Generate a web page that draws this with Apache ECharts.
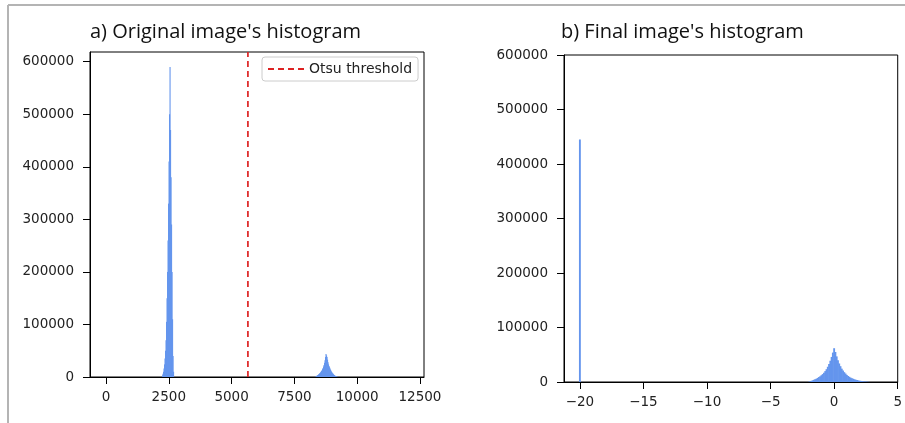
<!DOCTYPE html>
<html><head><meta charset="utf-8">
<script src="https://cdn.jsdelivr.net/npm/echarts@6/dist/echarts.min.js"></script>
<style>html,body{margin:0;padding:0;background:#fff}#c{width:905px;height:423px}</style>
</head><body><div id="c"></div>
<script>
// ---- data ----
const leftTitle = "a) Original image's histogram";
const rightTitle = "b) Final image's histogram";
const leftBinWidth = 20;
const leftCenters = [2250,2270,2290,2310,2330,2350,2370,2390,2410,2430,2450,2470,2490,2510,2530,2550,2570,2590,2610,2630,2650,2670,2690,
  8360,8380,8400,8420,8440,8460,8480,8500,8520,8540,8560,8580,8600,8620,8640,8660,8680,8700,8720,8740,8760,
  8780,8800,8820,8840,8860,8880,8900,8920,8940,8960,8980,9000,9020,9040,9060,9080,9100,9120,9140,9160,9180,9200];
const leftCounts = [3000,6000,10000,16000,24000,35000,50000,70000,105000,150000,200000,260000,330000,410000,500000,590000,470000,380000,290000,200000,110000,40000,10000,
  1500,2000,2500,3200,4000,4700,5500,6500,7500,8700,10000,11500,13000,15000,17000,20000,23000,27000,32000,38000,44000,
  41000,38000,33000,28000,24000,21000,18500,16000,14000,12000,10000,8500,7200,6000,5000,4000,3200,2500,2000,1500,1100,800];
const otsuThreshold = 5650;
const leftXTicks = [0,2500,5000,7500,10000,12500];
const leftYTicks = [0,100000,200000,300000,400000,500000,600000];

const rightBinWidth = 0.1;
const rightCenters = [-20,
  -2.0,-1.9,-1.8,-1.7,-1.6,-1.5,-1.4,-1.3,-1.2,-1.1,-1.0,-0.9,-0.8,-0.7,-0.6,-0.5,-0.4,-0.3,-0.2,-0.1,
  0.0,0.1,0.2,0.3,0.4,0.5,0.6,0.7,0.8,0.9,1.0,1.1,1.2,1.3,1.4,1.5,1.6,1.7,1.8,1.9,2.0,2.1,2.2,2.3,2.4,2.5,2.6,2.7];
const rightCounts = [445000,
  500,1000,2000,3000,4000,5000,6000,7500,9000,10500,12500,14500,17000,20000,23500,28000,33000,39000,46000,54000,
  62000,55000,47000,40000,34000,29000,24500,21000,18000,15500,13000,11000,9500,8000,7000,6000,5000,4200,3500,2900,2400,2000,1600,1300,1000,800,600,400];
const rightXTicks = [-20,-15,-10,-5,0,5];
const rightYTicks = [0,100000,200000,300000,400000,500000,600000];

// ---- styling ----
const barColor = '#6495ED';
const tickFont = {fontFamily:'DejaVu Sans', fontSize:13.5, color:'#222'};
const fmt = v => String(v).replace('-', '\u2212');

function histRender(binW){
  return function(params, api){
    const c = api.value(0), v = api.value(1);
    const p0 = api.coord([c - binW/2, v]);
    const p1 = api.coord([c + binW/2, 0]);
    return {type:'rect', shape:{x:p0[0]-0.3, y:p0[1], width:p1[0]-p0[0]+0.6, height:p1[1]-p0[1]},
      style:{fill:barColor}};
  };
}
function xAxisCfg(idx, min, max, ticks){
  return {type:'value', gridIndex:idx, min:min, max:max, splitLine:{show:false},
    axisLine:{show:true, onZero:false, lineStyle:{color:'#000', width:1}},
    axisTick:{show:true, length:7, customValues:ticks, lineStyle:{color:'#000'}},
    axisLabel:Object.assign({margin:13, customValues:ticks, formatter:fmt}, tickFont)};
}
function yAxisCfg(idx, min, max, ticks){
  return {type:'value', gridIndex:idx, min:min, max:max, splitLine:{show:false},
    axisLine:{show:true, onZero:false, lineStyle:{color:'#000', width:1}},
    axisTick:{show:true, length:7, customValues:ticks, lineStyle:{color:'#000'}},
    axisLabel:Object.assign({margin:16, customValues:ticks, formatter:fmt}, tickFont)};
}

const chart = echarts.init(document.getElementById('c'), null, {renderer:'canvas'});
chart.setOption({
  animation:false,
  backgroundColor:'#fff',
  title:[
    {text:leftTitle, left:90, top:20, padding:0, textStyle:{fontFamily:'Open Sans', fontSize:20, fontWeight:'normal', color:'#111', lineHeight:24}},
    {text:rightTitle, left:561, top:20, padding:0, textStyle:{fontFamily:'Open Sans', fontSize:20, fontWeight:'normal', color:'#111', lineHeight:24}}
  ],
  legend:{data:['Otsu threshold'], left:262, top:57, padding:[5,6,5,5], itemWidth:36, itemHeight:14,
    borderColor:'#ccc', borderWidth:1, borderRadius:3, backgroundColor:'#fff',
    itemStyle:{opacity:0},
    textStyle:{fontFamily:'DejaVu Sans', fontSize:14, color:'#222'}},
  grid:[
    {left:90, top:52, width:334, height:325, show:true, borderColor:'#000', borderWidth:1, backgroundColor:'transparent'},
    {left:564, top:55, width:334, height:327, show:true, borderColor:'#000', borderWidth:1, backgroundColor:'transparent'}
  ],
  xAxis:[xAxisCfg(0,-637,12660,leftXTicks), xAxisCfg(1,-21.25,5,rightXTicks)],
  yAxis:[yAxisCfg(0,0,618500,leftYTicks), yAxisCfg(1,0,600000,rightYTicks)],
  series:[
    {type:'custom', name:'left hist', xAxisIndex:0, yAxisIndex:0, clip:true, renderItem:histRender(leftBinWidth),
      encode:{x:0,y:1}, data:leftCenters.map((c,i)=>[c,leftCounts[i]])},
    {type:'line', name:'Otsu threshold', xAxisIndex:0, yAxisIndex:0, symbol:'none', clip:true,
      lineStyle:{color:'#dd2222', width:1.7, type:[6,4]}, itemStyle:{color:'#dd2222'},
      data:[[otsuThreshold,0],[otsuThreshold,618500]]},
    {type:'custom', name:'right hist', xAxisIndex:1, yAxisIndex:1, clip:true, renderItem:histRender(rightBinWidth),
      encode:{x:0,y:1}, data:rightCenters.map((c,i)=>[c,rightCounts[i]])}
  ],
  graphic:[
    {type:'line', shape:{x1:8,y1:5,x2:905,y2:5}, style:{stroke:'#b4b4b4', lineWidth:2}},
    {type:'line', shape:{x1:8,y1:5,x2:8,y2:423}, style:{stroke:'#b4b4b4', lineWidth:2}}
  ]
});
</script></body></html>
